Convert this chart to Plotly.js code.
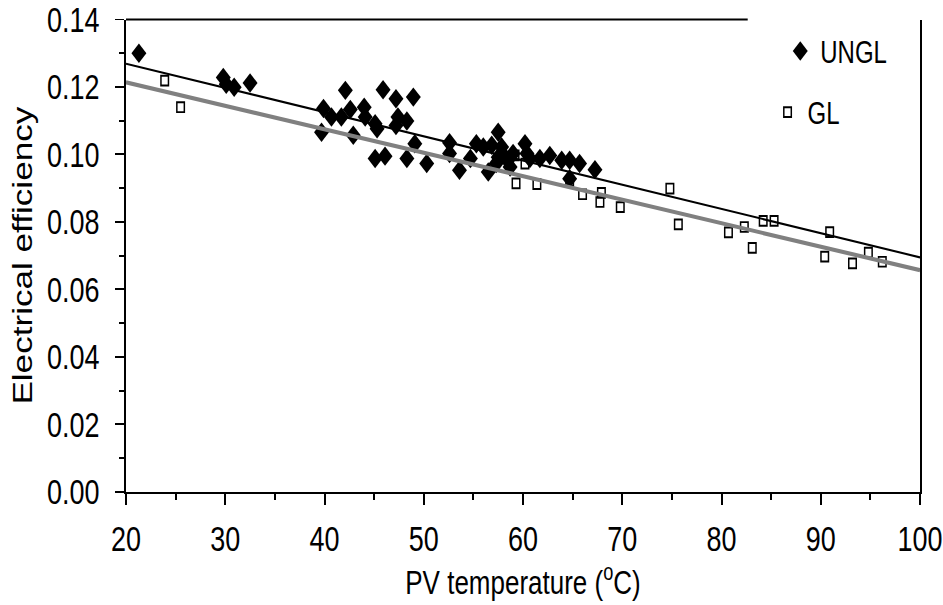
<!DOCTYPE html>
<html>
<head>
<meta charset="utf-8">
<script src="https://cdn.plot.ly/plotly-3.0.1.min.js"></script>
<style>
  html, body { margin: 0; padding: 0; background: #fff; overflow: hidden; }
  #wrap { width: 943px; height: 605px; overflow: hidden; }
  /* the reference picture is stretched vertically; draw at 943x465 and stretch */
  #chart { width: 943px; height: 465px; transform: scaleY(1.30108); transform-origin: 0 0; }
</style>
</head>
<body>
<div id="wrap"><div id="chart"></div></div>
<script>
// UNGL (unglazed) measurements
var unglTemp = [21.3, 29.8, 30.1, 30.9, 32.5, 39.7, 39.9, 40.7, 41.7, 42.1, 42.6, 42.9, 44.0, 44.1, 45.1, 45.3, 45.9, 47.2, 48.95, 47.4, 48.3, 47.2, 49.1, 45.1, 46.1, 48.3, 50.3, 52.6, 52.6, 53.6, 54.7, 55.3, 56.0, 56.85, 56.5, 57.5, 57.85, 57.5, 57.3, 58.2, 58.7, 59.0, 60.2, 60.4, 60.7, 61.7, 62.7, 63.9, 64.7, 65.7, 67.25, 64.7];
var unglEff  = [0.130, 0.1228, 0.1208, 0.1199, 0.1212, 0.1066, 0.1136, 0.1111, 0.1111, 0.119, 0.1133, 0.1057, 0.114, 0.1111, 0.1091, 0.1076, 0.1192, 0.1165, 0.117, 0.1111, 0.1099, 0.1086, 0.1032, 0.0988, 0.0995, 0.0988, 0.0973, 0.1035, 0.1003, 0.0953, 0.0988, 0.1032, 0.1022, 0.1027, 0.0948, 0.1066, 0.1022, 0.0992, 0.0973, 0.0992, 0.0963, 0.1003, 0.1032, 0.1003, 0.0988, 0.0988, 0.0997, 0.0983, 0.0983, 0.0973, 0.0955, 0.0928];

// GL (glazed) measurements
var glTemp = [23.9, 25.5, 59.2, 60.2, 59.3, 61.4, 64.7, 66.0, 67.9, 67.75, 69.8, 74.8, 75.65, 80.7, 82.3, 83.1, 84.2, 85.3, 90.9, 90.4, 93.2, 94.8, 96.2];
var glEff  = [0.1219, 0.114, 0.0997, 0.0973, 0.0914, 0.0912, 0.0921, 0.0882, 0.0886, 0.0859, 0.0844, 0.0899, 0.0793, 0.0769, 0.0785, 0.0723, 0.0803, 0.0803, 0.077, 0.0697, 0.0677, 0.0709, 0.0682];

// Linear trend lines (end points)
var trendTemp = [20, 100];
var unglTrend = [0.1269, 0.0695];
var glTrend   = [0.1214, 0.0657];

var xTitle = 'PV temperature (<sup>o</sup>C)';
var yTitle = 'Electrical efficiency';

var FONT = '"Liberation Sans", Arial, sans-serif';

var traces = [
  {
    x: unglTemp, y: unglEff, type: 'scatter', mode: 'markers', name: 'UNGL',
    marker: { symbol: 'diamond', size: 11.5, color: '#000000', line: { width: 0 } },
    legend: 'legend'
  },
  {
    x: glTemp, y: glEff, type: 'scatter', mode: 'markers', name: 'GL',
    marker: { symbol: 'square-open', size: 7.5, color: '#000000', line: { width: 1.5, color: '#000000' } },
    legend: 'legend2'
  },
  {
    x: trendTemp, y: unglTrend, type: 'scatter', mode: 'lines', showlegend: false,
    line: { color: '#000000', width: 1.6 }, hoverinfo: 'skip'
  },
  {
    x: trendTemp, y: glTrend, type: 'scatter', mode: 'lines', showlegend: false,
    line: { color: '#808080', width: 3.2 }, hoverinfo: 'skip'
  }
];

var layout = {
  width: 943, height: 465,
  margin: { l: 126, r: 23, t: 14.6, b: 86.9 },
  paper_bgcolor: '#ffffff', plot_bgcolor: '#ffffff',
  font: { family: FONT, size: 27, color: '#000000' },
  showlegend: true,
  xaxis: {
    range: [20, 100], dtick: 10, tick0: 0,
    showgrid: false, zeroline: false,
    showline: true, linecolor: '#000000', linewidth: 1.6,
    ticks: 'outside', ticklen: 8.5, tickwidth: 2, tickcolor: '#000000',
    minor: { dtick: 5, ticks: 'outside', ticklen: 4.6, tickwidth: 2, tickcolor: '#000000', showgrid: false },
    tickfont: { family: FONT, size: 27, color: '#000000' },
    ticklabelstandoff: 3,
    ticklabeloverflow: 'allow',
    automargin: false,
    title: { text: xTitle, font: { family: FONT, size: 26, color: '#000000' }, standoff: 0 }
  },
  yaxis: {
    range: [0, 0.14], dtick: 0.02, tick0: 0, tickformat: '.2f',
    showgrid: false, zeroline: false,
    showline: true, linecolor: '#000000', linewidth: 2, mirror: true,
    ticks: 'outside', ticklen: 9, tickwidth: 1.5, tickcolor: '#000000',
    minor: { dtick: 0.01, ticks: 'outside', ticklen: 5, tickwidth: 1.5, tickcolor: '#000000', showgrid: false },
    tickfont: { family: FONT, size: 27, color: '#000000' },
    ticklabelstandoff: 10,
    ticklabeloverflow: 'allow',
    automargin: false,
    title: { text: yTitle, font: { family: FONT, size: 27, color: '#000000' }, standoff: 7 }
  },
  legend: {
    x: 0.824, y: 0.994, xanchor: 'left', yanchor: 'top',
    bgcolor: 'rgba(0,0,0,0)', borderwidth: 0,
    font: { family: FONT, size: 24, color: '#000000' }
  },
  legend2: {
    x: 0.808, y: 0.865, xanchor: 'left', yanchor: 'top',
    bgcolor: 'rgba(0,0,0,0)', borderwidth: 0,
    font: { family: FONT, size: 24, color: '#000000' }
  },
  shapes: [
    { type: 'line', xref: 'paper', yref: 'paper', x0: 0, x1: 0.783, y0: 1, y1: 1,
      line: { color: '#000000', width: 1.6 } }
  ]
};

Plotly.newPlot('chart', traces, layout, { displayModeBar: false, staticPlot: true });
</script>
</body>
</html>
